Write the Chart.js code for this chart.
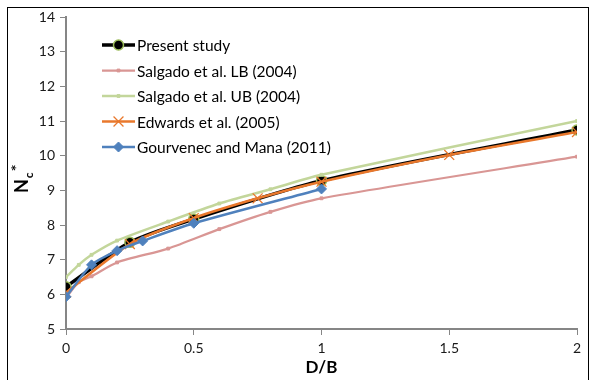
<!DOCTYPE html>
<html>
<head>
<meta charset="utf-8">
<script src="https://cdn.jsdelivr.net/npm/chart.js@4"></script>
<style>
  html, body { margin: 0; padding: 0; background: #fff; }
  #wrap { width: 592px; height: 380px; position: relative; }
</style>
</head>
<body>
<div id="wrap"><canvas id="myChart" width="592" height="380"></canvas></div>
<script>
// Data
const presentX = [0, 0.25, 0.5, 1, 2];
const presentY = [6.22, 7.5, 8.17, 9.28, 10.74];

const salgadoX = [0, 0.05, 0.1, 0.2, 0.4, 0.6, 0.8, 1, 2];
const salgadoLB = [5.9, 6.35, 6.52, 6.92, 7.32, 7.88, 8.38, 8.77, 9.97];
const salgadoUB = [6.5, 6.85, 7.14, 7.55, 8.1, 8.62, 9.03, 9.45, 11.0];

const edwardsX = [0, 0.25, 0.5, 0.75, 1, 1.5, 2];
const edwardsY = [6.05, 7.45, 8.2, 8.77, 9.25, 10.02, 10.68];

const gourvX = [0, 0.1, 0.2, 0.3, 0.5, 1];
const gourvY = [5.93, 6.85, 7.26, 7.54, 8.05, 9.04];

const xTicks = [0, 0.5, 1, 1.5, 2];
const xTickLabels = ['0', '0.5', '1', '1.5', '2'];
const yTicks = [5, 6, 7, 8, 9, 10, 11, 12, 13, 14];

const seriesLabels = [
    'Present study',
    'Salgado et al. LB (2004)',
    'Salgado et al. UB (2004)',
    'Edwards et al. (2005)',
    'Gourvenec and Mana (2011)'
];

function toPoints(xs, ys) {
    return xs.map((x, i) => ({ x: x, y: ys[i] }));
}

Chart.defaults.font.family = 'Lato, "Liberation Sans", sans-serif';
Chart.defaults.color = '#1a1a1a';

const AXIS_GREY = '#868686';

// Excel-like frame, legend inside plot and the N_c* axis title
const decorPlugin = {
    id: 'decor',
    afterDraw(chart) {
        const ctx = chart.ctx;
        ctx.save();

        // outer frame
        ctx.strokeStyle = '#000';
        ctx.lineWidth = 1;
        ctx.strokeRect(7.5, 7.5, 581, 380);

        // legend
        const lx0 = 102, lx1 = 135, ly0 = 45, step = 25.5;
        chart.data.datasets.forEach((ds, i) => {
            const y = ly0 + i * step;
            ctx.strokeStyle = ds.borderColor;
            ctx.lineWidth = ds.borderWidth;
            ctx.beginPath();
            ctx.moveTo(lx0, y);
            ctx.lineTo(lx1, y);
            ctx.stroke();
            if (ds.pointRadius > 0) {
                ctx.fillStyle = ds.pointBackgroundColor;
                ctx.strokeStyle = ds.pointBorderColor;
                ctx.lineWidth = ds.pointBorderWidth;
                Chart.helpers.drawPoint(ctx, {
                    pointStyle: ds.pointStyle,
                    radius: ds.pointRadius,
                    rotation: 0,
                    borderWidth: ds.pointBorderWidth
                }, (lx0 + lx1) / 2, y);
            }
            ctx.fillStyle = '#000';
            ctx.font = '15.5px Lato, "Liberation Sans", sans-serif';
            ctx.textBaseline = 'middle';
            ctx.textAlign = 'left';
            ctx.fillText(ds.label, lx1 + 2, y + 1);
        });

        // y axis title N_c*
        ctx.translate(28, 193);
        ctx.rotate(-Math.PI / 2);
        ctx.fillStyle = '#000';
        ctx.textBaseline = 'alphabetic';
        ctx.textAlign = 'left';
        ctx.font = 'bold 18px Lato, "Liberation Sans", sans-serif';
        ctx.fillText('N', 0, 0);
        const wN = ctx.measureText('N').width;
        ctx.font = 'bold 12px Lato, "Liberation Sans", sans-serif';
        ctx.fillText('c', wN + 1, 5);
        const wc = ctx.measureText('c').width;
        ctx.font = 'bold 16px Lato, "Liberation Sans", sans-serif';
        ctx.fillText('*', wN + wc + 2, -6);

        ctx.restore();
    }
};

const ctx = document.getElementById('myChart');

new Chart(ctx.getContext('2d'), {
    type: 'line',
    data: {
        datasets: [{
            label: seriesLabels[0],
            data: toPoints(presentX, presentY),
            borderColor: '#000000',
            borderWidth: 3.5,
            pointStyle: 'circle',
            pointRadius: 5,
            pointBackgroundColor: '#000000',
            pointBorderColor: '#9bbb59',
            pointBorderWidth: 1.5,
            tension: 0.25,
            order: 5
        }, {
            label: seriesLabels[1],
            data: toPoints(salgadoX, salgadoLB),
            borderColor: '#d99694',
            borderWidth: 2.25,
            pointStyle: 'rect',
            pointRadius: 2,
            pointBackgroundColor: '#d99694',
            pointBorderColor: '#d99694',
            pointBorderWidth: 1,
            tension: 0.25,
            order: 4
        }, {
            label: seriesLabels[2],
            data: toPoints(salgadoX, salgadoUB),
            borderColor: '#c3d69b',
            borderWidth: 2.5,
            pointStyle: 'rect',
            pointRadius: 2,
            pointBackgroundColor: '#c3d69b',
            pointBorderColor: '#c3d69b',
            pointBorderWidth: 1,
            tension: 0.25,
            order: 3
        }, {
            label: seriesLabels[3],
            data: toPoints(edwardsX, edwardsY),
            borderColor: '#e9782c',
            borderWidth: 2.5,
            pointStyle: 'crossRot',
            pointRadius: 7,
            pointBackgroundColor: '#e9782c',
            pointBorderColor: '#e9782c',
            pointBorderWidth: 1.25,
            tension: 0.25,
            order: 2
        }, {
            label: seriesLabels[4],
            data: toPoints(gourvX, gourvY),
            borderColor: '#4f81bd',
            borderWidth: 2.5,
            pointStyle: 'rectRot',
            pointRadius: 5,
            pointBackgroundColor: '#4f81bd',
            pointBorderColor: '#4f81bd',
            pointBorderWidth: 1,
            tension: 0.25,
            order: 1
        }]
    },
    options: {
        responsive: false,
        animation: false,
        layout: {
            padding: { left: 0, top: 17, right: 15, bottom: 2 }
        },
        scales: {
            x: {
                type: 'linear',
                min: 0,
                max: 2,
                afterBuildTicks: function(axis) {
                    axis.ticks = xTicks.map(v => ({ value: v }));
                },
                afterFit: function(axis) {
                    axis.height = 49;
                },
                border: { color: AXIS_GREY, width: 2 },
                grid: {
                    drawOnChartArea: false,
                    color: AXIS_GREY,
                    tickLength: 6,
                    tickWidth: 1
                },
                ticks: {
                    padding: 5,
                    maxRotation: 0,
                    font: { size: 14 },
                    color: '#1a1a1a',
                    callback: function(value) {
                        const i = xTicks.indexOf(value);
                        return i >= 0 ? xTickLabels[i] : '';
                    }
                },
                title: {
                    display: true,
                    text: 'D/B',
                    color: '#000',
                    font: { size: 17, weight: 'bold' },
                    padding: { top: 0, bottom: 0 }
                }
            },
            y: {
                type: 'linear',
                min: 5,
                max: 14,
                afterBuildTicks: function(axis) {
                    axis.ticks = yTicks.map(v => ({ value: v }));
                },
                afterFit: function(axis) {
                    axis.width = 66;
                },
                border: { color: AXIS_GREY, width: 2 },
                grid: {
                    drawOnChartArea: false,
                    color: AXIS_GREY,
                    tickLength: 6,
                    tickWidth: 1
                },
                ticks: {
                    padding: 5,
                    font: { size: 14 },
                    color: '#1a1a1a'
                }
            }
        },
        plugins: {
            legend: { display: false },
            tooltip: { enabled: false }
        }
    },
    plugins: [decorPlugin]
});
</script>
</body>
</html>
